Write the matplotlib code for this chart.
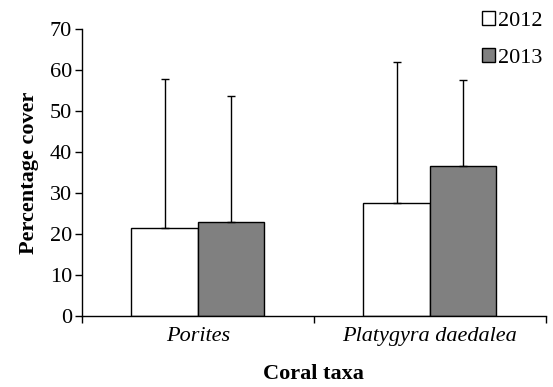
import matplotlib
matplotlib.use('Agg')
import numpy as np
import matplotlib.pyplot as plt

# mean percentage cover and upper error per taxon
taxa = ['Porites', 'Platygyra daedalea']
years = ['2012', '2013']
cover_2012 = [21.5, 27.6]
cover_2013 = [23.0, 36.7]
err_2012 = [36.3, 34.4]
err_2013 = [30.6, 20.9]

plt.rcParams['font.family'] = ['Liberation Serif', 'DejaVu Serif']

fig = plt.figure(figsize=(5.53, 3.87), dpi=100)
ax = fig.add_axes([0.148, 0.183, 0.839, 0.742])

x = np.arange(len(taxa))
w = 0.287
ax.bar(x - w / 2, cover_2012, w, color='white', edgecolor='black', linewidth=1.0,
       yerr=[np.zeros(len(taxa)), err_2012], capsize=3,
       error_kw=dict(elinewidth=1.0, capthick=1.0), label=years[0])
ax.bar(x + w / 2, cover_2013, w, color='#808080', edgecolor='black', linewidth=1.0,
       yerr=[np.zeros(len(taxa)), err_2013], capsize=3,
       error_kw=dict(elinewidth=1.0, capthick=1.0), label=years[1])

ax.set_xlim(-0.5, len(taxa) - 0.5)
ax.set_ylim(0, 70)
ax.set_yticks(range(0, 71, 10))
ax.tick_params(axis='y', labelsize=16, length=5, width=1, direction='out', pad=2)

# ticks between categories, labels centred on each group
ax.set_xticks(np.arange(len(taxa) + 1) - 0.5)
ax.set_xticklabels([])
ax.tick_params(axis='x', which='major', length=5, width=1, direction='out')
ax.set_xticks(x, minor=True)
ax.set_xticklabels(taxa, minor=True, fontstyle='italic', fontsize=16)
ax.tick_params(axis='x', which='minor', length=0, pad=8)

for s in ['top', 'right']:
    ax.spines[s].set_visible(False)
for s in ['left', 'bottom']:
    ax.spines[s].set_linewidth(1.0)

ax.set_ylabel('Percentage cover', fontsize=16, fontweight='bold', labelpad=8)
ax.set_xlabel('Coral taxa', fontsize=16, fontweight='bold', labelpad=13)

fig.legend(loc='upper left', bbox_to_anchor=(0.862, 0.985), frameon=False,
           fontsize=16, handlelength=0.58, handleheight=0.58, handletextpad=0.15,
           labelspacing=0.75, borderaxespad=0.0, borderpad=0.25)

fig.savefig('out.png', dpi=100)
